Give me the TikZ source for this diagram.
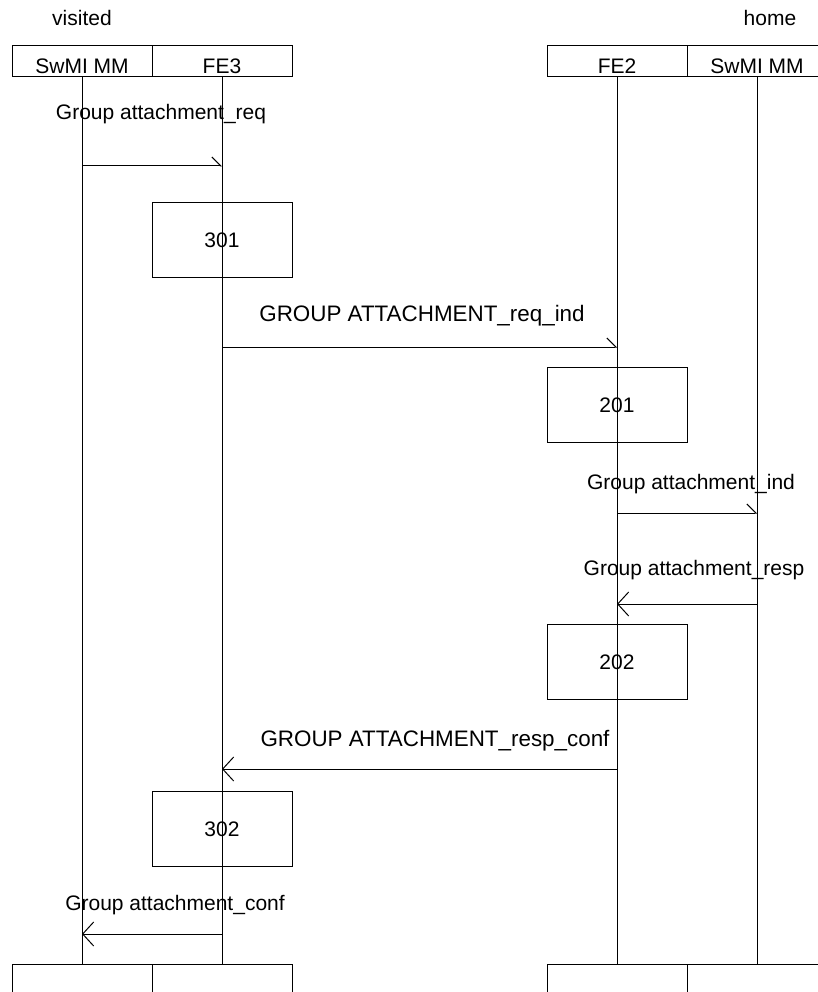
\documentclass[tikz,border=0pt]{standalone}
\usepackage{fontspec}
\setmainfont{Liberation Sans}
\usetikzlibrary{arrows.meta}
\begin{document}
\begin{tikzpicture}[x=1pt,y=-1pt,
  every node/.style={font=\fontsize{21}{25}\selectfont, inner sep=0pt},
  hdr/.style={draw, line width=1pt, minimum width=140pt, minimum height=31pt, anchor=north west, text depth=0pt},
  procbox/.style={draw, line width=1pt, minimum width=140pt, minimum height=75pt},
  life/.style={line width=1pt},
  msgr/.style={line width=1pt, -{Straight Barb[left, length=9pt, width=18pt, line width=1pt]}},
  msgl/.style={line width=1pt, -{Straight Barb[length=11pt, width=24pt, line width=1pt]}},
  lbl/.style={anchor=base},
  caplbl/.style={anchor=base, font=\fontsize{22.4}{26}\selectfont}
]
\useasboundingbox (0,0) rectangle (818,992);
% titles
\node[anchor=base] (visited) at (82,26) {visited};
\node[anchor=base] (home) at (770,26) {home};
% header boxes
\node[hdr] (h1) at (12,45) {};
\node[hdr] (h2) at (152,45) {};
\node[hdr] (h3) at (547,45) {};
\node[hdr] (h4) at (687,45) {};
\node[anchor=base] (t1) at (82,74) {SwMI MM};
\node[anchor=base] (t2) at (222,74) {FE3};
\node[anchor=base] (t3) at (617,74) {FE2};
\node[anchor=base] (t4) at (757,74) {SwMI MM};
% footer boxes
\node[hdr] (f1) at (12,964) {};
\node[hdr] (f2) at (152,964) {};
\node[hdr] (f3) at (547,964) {};
\node[hdr] (f4) at (687,964) {};
% lifelines
\draw[life] (h1.south) -- (f1.north);
\draw[life] (h2.south) -- (f2.north);
\draw[life] (h3.south) -- (f3.north);
\draw[life] (h4.south) -- (f4.north);
% process boxes
\node[procbox] (b301) at (222,240) {301};
\node[procbox] (b201) at (617,405) {201};
\node[procbox] (b202) at (617,662) {202};
\node[procbox] (b302) at (222,829) {302};
% message endpoints
\coordinate (m1a) at (82,166);  \coordinate (m1b) at (222,166);
\coordinate (m2a) at (222,347); \coordinate (m2b) at (617,347);
\coordinate (m3a) at (617,513); \coordinate (m3b) at (757,513);
\coordinate (m4a) at (757,604); \coordinate (m4b) at (617,604);
\coordinate (m5a) at (617,769); \coordinate (m5b) at (222,769);
\coordinate (m6a) at (222,934); \coordinate (m6b) at (82,934);
% messages
\draw[msgr] (m1a) -- (m1b);
\node[lbl] (l1) at (161,120) {Group attachment\_req};
\draw[msgr] (m2a) -- (m2b);
\node[caplbl] (l2) at (422,321) {GROUP ATTACHMENT\_req\_ind};
\draw[msgr] (m3a) -- (m3b);
\node[lbl] (l3) at (691,489) {Group attachment\_ind};
\draw[msgl] (m4a) -- (m4b);
\node[lbl] (l4) at (694,575) {Group attachment\_resp};
\draw[msgl] (m5a) -- (m5b);
\node[caplbl] (l5) at (435,746) {GROUP ATTACHMENT\_resp\_conf};
\draw[msgl] (m6a) -- (m6b);
\node[lbl] (l6) at (175,910) {Group attachment\_conf};
\end{tikzpicture}
\end{document}
